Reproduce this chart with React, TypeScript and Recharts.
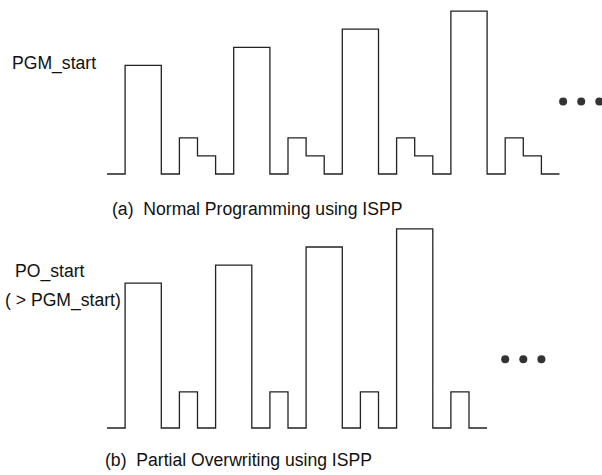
import { LineChart, Line, XAxis, YAxis, ReferenceDot } from 'recharts'

// pulse level per time unit (stepAfter)
const normalLevels = [0, 6, 6, 0, 2, 1, 0, 7, 7, 0, 2, 1, 0, 8, 8, 0, 2, 1, 0, 9, 9, 0, 2, 1, 0, 0]
const overwriteLevels = [0, 8, 8, 0, 2, 0, 9, 9, 0, 2, 0, 10, 10, 0, 2, 0, 11, 11, 0, 2, 0, 0]

// "..." continuation marks, in chart units
const normalEllipsisT = [25.2, 26.2, 27.2]
const normalEllipsisLevel = 4
const overwriteEllipsisT = [22, 23, 24]
const overwriteEllipsisLevel = 3.8

const normalData = normalLevels.map((v, t) => ({ t, v }))
const overwriteData = overwriteLevels.map((v, t) => ({ t, v }))

const UNIT = 18.1
const LEFT = 107
const W = 602
const FONT = '"Liberation Sans", Arial, sans-serif'
const INK = '#222'

function Caption({ x, baseline, children }: { x: number; baseline: number; children: string }) {
  return (
    <div
      style={{
        position: 'absolute',
        left: x,
        top: baseline - 14.9,
        fontFamily: FONT,
        fontSize: 17.6,
        lineHeight: '17.6px',
        color: '#111',
        whiteSpace: 'pre',
      }}
    >
      {children}
    </div>
  )
}

function Wave({ data, tMax, yMax, top, baseline, height, dotsT, dotLevel }: any) {
  const plotW = UNIT * tMax
  const plotH = UNIT * yMax
  const marginTop = baseline - top - plotH
  return (
    <div style={{ position: 'absolute', left: 0, top, width: W, height }}>
      <LineChart
        width={W}
        height={height}
        data={data}
        margin={{ top: marginTop, left: LEFT, right: W - LEFT - plotW, bottom: height - marginTop - plotH }}
      >
        <XAxis type="number" dataKey="t" domain={[0, tMax]} hide />
        <YAxis type="number" domain={[0, yMax]} hide />
        <Line
          type="stepAfter"
          dataKey="v"
          stroke={INK}
          strokeWidth={1.3}
          dot={false}
          activeDot={false}
          isAnimationActive={false}
        />
        {dotsT.map((t: number) => (
          <ReferenceDot key={t} x={t} y={dotLevel} r={4} fill="#333" stroke="none" ifOverflow="visible" />
        ))}
      </LineChart>
    </div>
  )
}

export default function App() {
  return (
    <div style={{ position: 'absolute', left: 0, top: 0, width: W, height: 475, background: '#fff', overflow: 'hidden' }}>
      <Wave
        data={normalData}
        tMax={25}
        yMax={9.5}
        top={0}
        baseline={174}
        height={190}
        dotsT={normalEllipsisT}
        dotLevel={normalEllipsisLevel}
      />
      <Wave
        data={overwriteData}
        tMax={21}
        yMax={11.5}
        top={210}
        baseline={428}
        height={250}
        dotsT={overwriteEllipsisT}
        dotLevel={overwriteEllipsisLevel}
      />
      <Caption x={12} baseline={70}>PGM_start</Caption>
      <Caption x={112} baseline={216}>(a)  Normal Programming using ISPP</Caption>
      <Caption x={15} baseline={278}>PO_start</Caption>
      <Caption x={5} baseline={307}>( &gt; PGM_start)</Caption>
      <Caption x={105} baseline={467}>(b)  Partial Overwriting using ISPP</Caption>
    </div>
  )
}
